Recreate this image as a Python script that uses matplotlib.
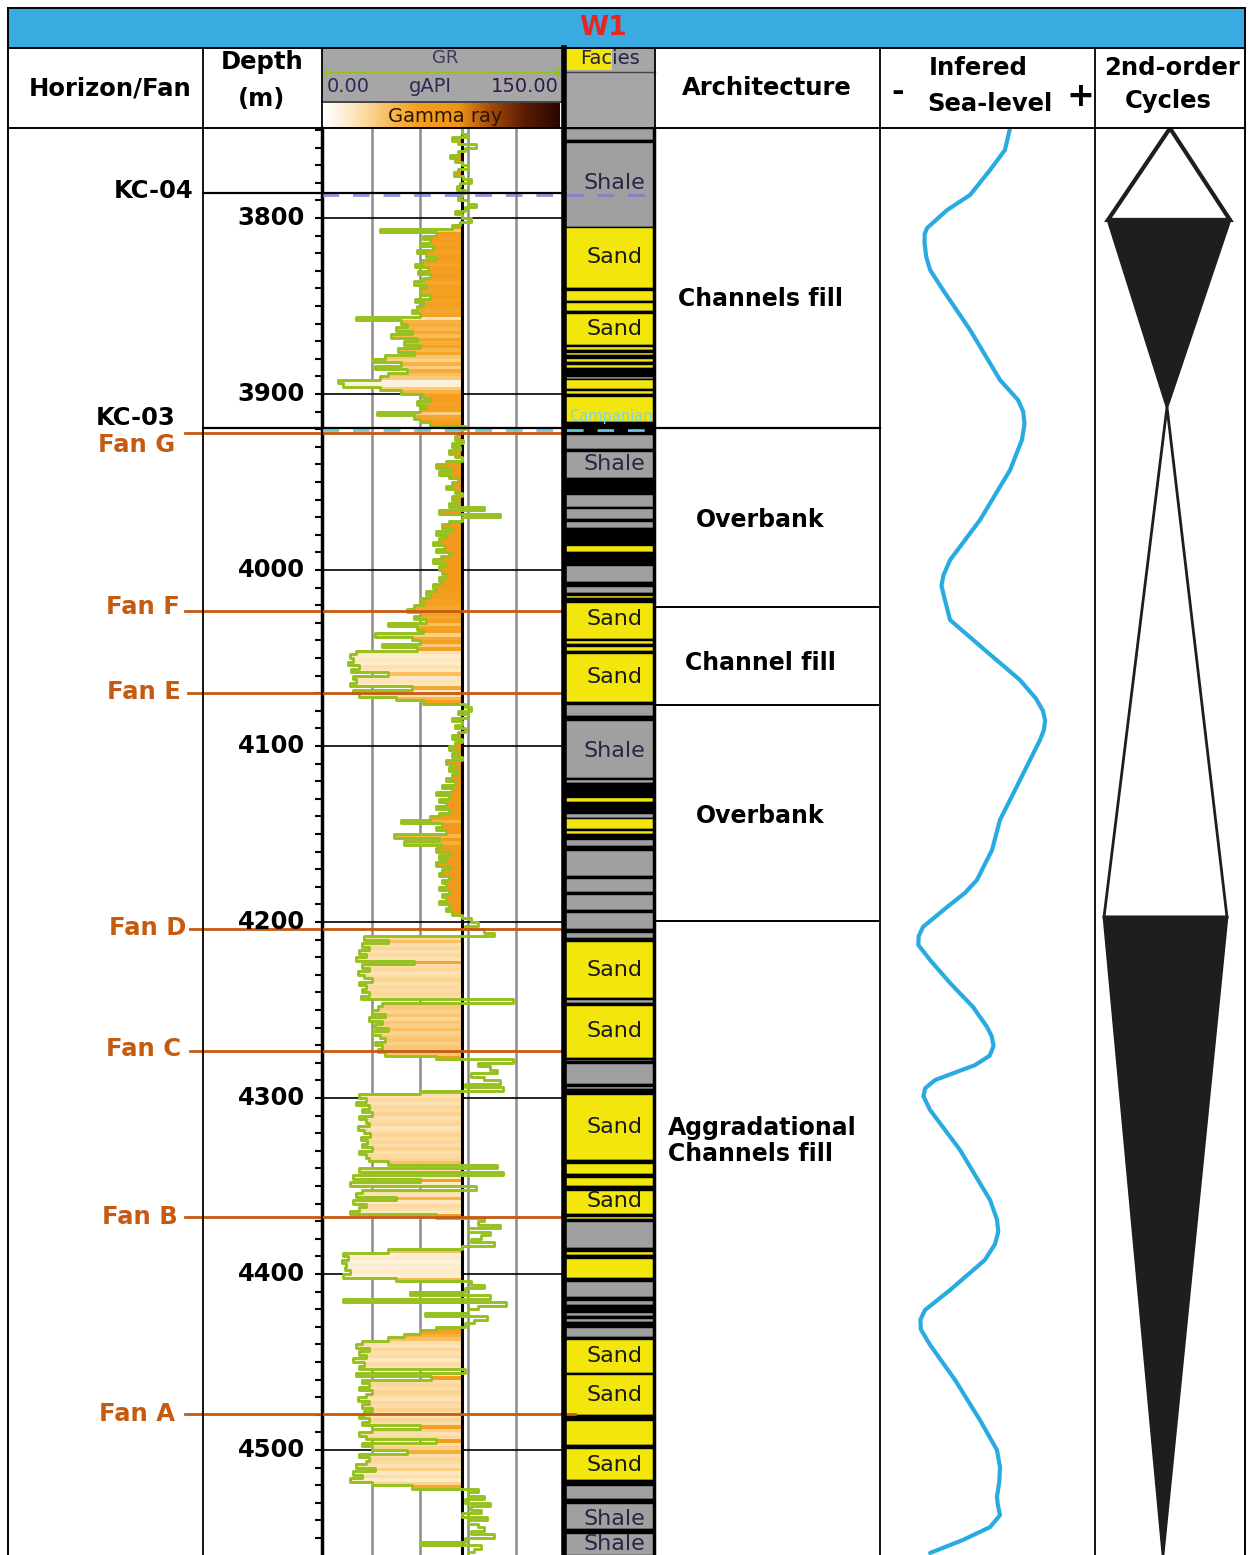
import numpy as np
import matplotlib
matplotlib.use('Agg')
import matplotlib.pyplot as plt
from matplotlib.colors import LinearSegmentedColormap, Normalize
from matplotlib.patches import Rectangle, Polygon

W, H = 1258, 1555
D_TOP, D_BOT = 3748.86, 4559.66

# ---------------- data ----------------
# GR log (gAPI), 2 m samples, listed by interval (start depth, values)
gr_segments = [
    (3750, [86, 90, 80, 84, 95, 88, 84, 79, 82, 86, 90, 84, 81, 87, 92, 85, 83, 88, 86, 84,
            90, 95, 88, 82, 86, 92, 85, 80]),
    (3806, [35, 70, 62, 66, 60, 68, 58, 64, 70, 61, 57, 65, 59, 66, 62, 56, 64, 60]),
    (3842, [60, 66, 57, 62, 58, 55, 60, 20, 48, 52]),
    (3862, [45, 55, 42, 58, 50, 60, 46, 56, 38, 30, 48, 32, 52, 40, 35]),
    (3892, [9, 12, 35, 48, 62, 66, 58, 64, 60, 33, 56, 60, 66]),
    (3918, [88, 86, 84, 82, 87, 80, 85, 78, 82, 86, 76, 70, 80, 72, 78, 84, 80, 76, 82, 86,
            80, 84, 78, 100, 72, 110, 86]),
    (3972, [78, 74, 80, 70, 76, 72, 68, 75, 70, 78, 73, 68, 76, 72, 74]),
    (4002, [76, 72, 74, 68, 70, 64, 66, 60, 62, 56, 52]),
    (4024, [60, 56, 64, 40, 58, 62, 32, 55, 60, 36, 58]),
    (4046, [20, 16, 18, 15, 22, 17, 40, 18, 20, 16, 55, 18, 22]),
    (4072, [45, 62]),
    (4076, [88, 92, 84, 90, 80, 86, 82, 88, 84, 80, 86, 82, 78, 84, 80, 86, 76, 82, 78, 84,
            80, 76, 82, 74, 80, 70, 78, 72, 76, 70, 78, 72, 66, 48, 74, 70, 76, 44, 72, 50,
            74, 70, 78, 72, 76, 70, 78, 74, 72, 78, 74, 76, 72, 78, 74, 76, 72, 78, 76, 80,
            86]),
    (4198, [92, 96, 88, 100, 106, 25, 40]),
    (4212, [24, 28, 22, 26, 20, 56, 24, 28, 21, 25, 30, 22, 26, 24, 28, 23]),
    (4244, [118, 36]),
    (4248, [34, 30, 38, 28, 36, 32, 40, 30, 35, 38, 32, 36, 34, 38]),
    (4276, [70, 118, 96, 104, 108, 92, 100, 110, 88, 112, 60]),
    (4298, [22, 26, 20, 28, 24, 30, 22, 26, 28, 21, 25, 29, 23, 27, 24, 30, 22, 26, 28]),
    (4336, [40, 108, 22, 112, 18, 60, 16, 95, 24, 20, 45, 18, 26, 22, 16, 70]),
    (4368, [100, 96, 110, 90, 104, 98, 92, 106, 86]),
    (4386, [40, 12, 15, 11, 14, 13, 16, 12, 45]),
    (4404, [92, 100, 88, 54, 104, 12, 114, 96, 90, 63, 102, 94, 88, 70, 60, 50, 40]),
    (4438, [24, 20, 28, 22, 26, 18, 25, 22, 88, 20, 67, 24, 28, 22, 30, 26, 21, 28, 24, 30,
            25, 22]),
    (4482, [28, 24, 60, 30, 22, 26, 70, 24, 30, 52, 22, 28, 26, 20, 32, 18, 24, 16, 30, 55]),
    (4522, [96, 90, 100, 88, 104, 92, 98, 86, 102, 90, 96, 100, 92, 106, 88, 60, 98, 94, 90, 96]),
]
gr_baseline = 86
gr_grid = [30, 60, 90, 120]
depth_major = [3800, 3900, 4000, 4100, 4200, 4300, 4400, 4500]

horizon_names = ['KC-04', 'KC-03', 'Fan G', 'Fan F', 'Fan E', 'Fan D', 'Fan C', 'Fan B', 'Fan A']
horizon_depths = [3785.8, 3919.3, 3922.0, 4023.3, 4069.9, 4204.0, 4273.3, 4367.6, 4479.5]
horizon_label_depths = [3784.7, 3913.6, 3929.0, 4021.0, 4069.3, 4203.4, 4272.2, 4367.6, 4479.5]

# facies column: top of each layer and its kind (S shale, D sand, B black band)
fac_tops = [3748.86, 3755.5, 3757, 3805, 3840, 3841, 3847, 3848, 3853, 3854,
            3872, 3873, 3875, 3876, 3878, 3879.5, 3882, 3883, 3885, 3890,
            3891.5, 3897, 3898, 3900, 3901, 3916, 3923, 3931, 3932.5, 3948,
            3957, 3964, 3965, 3971, 3972, 3976, 3986, 3990, 3997, 4007,
            4009, 4013, 4014, 4016, 4018, 4039, 4040, 4042, 4043, 4046,
            4047, 4075, 4076, 4083, 4085, 4118, 4119, 4121, 4129, 4132,
            4138, 4141, 4147, 4148, 4150, 4153, 4157, 4159, 4174, 4175,
            4183, 4184, 4193, 4194.5, 4204, 4205.5, 4209, 4211, 4243, 4244,
            4246, 4247, 4277, 4278, 4279, 4280, 4292, 4293, 4295, 4298,
            4335, 4337, 4343, 4345, 4350, 4352, 4366, 4367, 4369, 4370,
            4385, 4387, 4389, 4391, 4402, 4404, 4413, 4415, 4417.5, 4421.5,
            4424, 4425, 4427, 4430, 4436, 4437, 4456, 4457, 4480, 4483,
            4497, 4499, 4517, 4520, 4528, 4530, 4545, 4547]
fac_kinds = ('SBSDBDBDBD'
             'BDBDBDBDBS'
             'DBDBDBSBSB'
             'SBSBSBDBSB'
             'SBDBDBDBDB'
             'DBSBSBSBDB'
             'SDBDBSBSBS'
             'BSBSBSBDBS'
             'BDBSBSBSBD'
             'BDBDBDBDBS'
             'BDBDBSBSBS'
             'BSBSBDBDBD'
             'BDBSBSBS')
fac_label_depths = [3780, 3822, 3863, 3940, 4028, 4061, 4103, 4227, 4262, 4316.5,
                    4358.5, 4446.6, 4468.8, 4508.5, 4539, 4553.5]
fac_label_texts = ['Shale', 'Sand', 'Sand', 'Shale', 'Sand', 'Sand', 'Shale', 'Sand', 'Sand', 'Sand',
                   'Sand', 'Sand', 'Sand', 'Sand', 'Shale', 'Shale']

arch_bounds = [4021.0, 4076.7, 4199.4]
arch_labels = ['Channels fill', 'Overbank', 'Channel fill', 'Overbank', 'Aggradational\nChannels fill']
arch_label_depths = [3846.0, 3971.6, 4052.8, 4139.8, 4324.4]

# inferred relative sea level (0 = low, 10 = high)
sea_depths = [3748.9, 3761.4, 3772.7, 3786.9, 3795.5, 3805.7, 3809.0, 3814.0, 3822.0, 3829.5,
              3840.9, 3863.6, 3892.0, 3903.4, 3910.0, 3917.0, 3926.1, 3943.2, 3971.6, 3994.3,
              4003.0, 4009.0, 4017.0, 4028.4, 4045.5, 4062.5, 4073.0, 4080.0, 4085.5, 4091.0,
              4096.6, 4125.0, 4142.0, 4159.1, 4176.1, 4183.5, 4191.5, 4202.8, 4208.0, 4213.0,
              4221.6, 4234.7, 4248.3, 4259.7, 4265.0, 4270.5, 4276.0, 4281.3, 4289.8, 4294.5,
              4299.0, 4306.8, 4329.5, 4358.0, 4369.0, 4376.0, 4383.0, 4392.0, 4409.1, 4420.5,
              4426.0, 4431.5, 4440.3, 4460.2, 4483.0, 4500.0, 4509.7, 4518.0, 4526.7, 4531.0,
              4537.0, 4543.8, 4551.1, 4558.5]
sea_values = [6.05, 5.81, 5.12, 4.19, 3.12, 2.19, 2.08, 2.07, 2.15, 2.33,
              2.93, 4.19, 5.58, 6.42, 6.66, 6.72, 6.60, 6.05, 4.65, 3.26,
              2.95, 2.86, 3.02, 3.26, 4.88, 6.51, 7.25, 7.58, 7.68, 7.62,
              7.44, 6.28, 5.58, 5.21, 4.51, 3.95, 3.12, 2.00, 1.80, 1.78,
              2.33, 3.26, 4.33, 4.98, 5.20, 5.28, 5.10, 4.42, 2.56, 2.10,
              2.02, 2.33, 3.72, 5.12, 5.44, 5.50, 5.35, 4.88, 3.26, 2.09,
              1.88, 1.90, 2.33, 3.49, 4.65, 5.44, 5.58, 5.55, 5.44, 5.48,
              5.58, 5.12, 3.86, 2.33]

# 2nd-order cycles: nodes of the stacked triangles
cycle_depths = [3749.0, 3801.1, 3907.4, 4197.2, 4559.7]
cycle_left = [75, 13, 72, 9, 68]
cycle_right = [75, 135, 72, 132, 68]
cycle_fill = ['white', '#1e1e1c', 'white', '#1e1e1c']

# ---------------- style ----------------
ORANGE = '#c55a11'
GREEN = '#95c11f'
BLUE = '#29abe2'
fac_colors = {'S': '#a0a0a0', 'D': '#f2e60c', 'B': '#000000'}
gr_cmap = LinearSegmentedColormap.from_list('gamma', [
    (0.0, '#ffffff'), (0.1, '#fdeccb'), (0.2, '#fbd28e'), (0.3, '#f8b64a'),
    (0.4, '#f4a020'), (0.57, '#ee9519'), (0.7, '#a84e0c'), (0.85, '#5c1c04'), (1.0, '#2a0600')])
gr_norm = Normalize(0, 150)

fig = plt.figure(figsize=(W / 100, H / 100), dpi=100)
fig.patch.set_facecolor('white')


def px_axes(x0, y0, x1, y1):
    return fig.add_axes([x0 / W, 1 - y1 / H, (x1 - x0) / W, (y1 - y0) / H])


# ---- GR track ----
ax_gr = px_axes(322, 128, 562, 1555)
ax_gr.set_xlim(-1.25, 148.75)
ax_gr.set_ylim(D_BOT, D_TOP)
gr_d = np.concatenate([start + 2 * np.arange(len(v)) for start, v in gr_segments])
gr_v = np.concatenate([np.array(v, float) for _, v in gr_segments])
# each sample holds from its depth to the next one (matches steps-pre below)
ax_gr.barh(gr_d, np.maximum(gr_baseline - gr_v, 0), left=np.minimum(gr_v, gr_baseline),
           height=2, align='edge', color=gr_cmap(gr_norm(gr_v)), linewidth=0, zorder=2)
for g in gr_grid:
    ax_gr.axvline(g, color='#8c8c8c', lw=1.8, zorder=1)
ax_gr.axvline(gr_baseline, color='black', lw=2.2, zorder=3)
for d in depth_major:
    ax_gr.axhline(d, color='black', lw=1.2, zorder=1)
ax_gr.plot(gr_v, gr_d, drawstyle='steps-pre', color=GREEN, lw=2.1, zorder=4)
for s in ['top', 'right', 'bottom']:
    ax_gr.spines[s].set_visible(False)
ax_gr.spines['left'].set_linewidth(2.5)
ax_gr.set_xticks([])
ax_gr.set_yticks(np.arange(3750, 4560, 10))
ax_gr.tick_params(axis='y', direction='out', length=5, width=1.5, labelleft=False)

# ---- facies track ----
ax_f = px_axes(562, 128, 655, 1555)
ax_f.set_xlim(0, 1)
ax_f.set_ylim(D_BOT, D_TOP)
fac_base = fac_tops[1:] + [D_BOT]
ax_f.barh(fac_tops, 1, height=np.array(fac_base) - np.array(fac_tops), left=0, align='edge',
          color=[fac_colors[k] for k in fac_kinds], edgecolor='black', linewidth=1)
for d, t in zip(fac_label_depths, fac_label_texts):
    ax_f.text(0.56, d, t, ha='center', va='center', fontsize=16,
              color='#1a1a1a' if t == 'Sand' else '#262646')
ax_f.text(0.53, 3913.0, 'Campanian', ha='center', va='center', fontsize=10.5, color='#7fd6e6')
ax_f.axis('off')

# ---- sea level track ----
ax_s = px_axes(880, 128, 1095, 1555)
ax_s.set_xlim(0, 10)
ax_s.set_ylim(D_BOT, D_TOP)
ax_s.plot(sea_values, sea_depths, color=BLUE, lw=3, solid_joinstyle='round', solid_capstyle='round')
ax_s.axis('off')

# ---- 2nd order cycles ----
ax_c = px_axes(1095, 128, 1245, 1555)
ax_c.set_xlim(0, 150)
ax_c.set_ylim(D_BOT, D_TOP)
for i, fc in enumerate(cycle_fill):
    pts = [(cycle_left[i], cycle_depths[i]), (cycle_right[i], cycle_depths[i]),
           (cycle_right[i + 1], cycle_depths[i + 1]), (cycle_left[i + 1], cycle_depths[i + 1])]
    lw = 3 if i == 0 else 2
    ax_c.add_patch(Polygon(pts, closed=True, facecolor=fc, edgecolor='#1e1e1c', lw=lw,
                           joinstyle='miter'))
ax_c.axis('off')

# ---- overlay in depth coordinates ----
ov = px_axes(0, 128, W, 1555)
ov.set_xlim(0, W)
ov.set_ylim(D_BOT, D_TOP)
ov.patch.set_alpha(0)
ov.axis('off')

# horizon marker dashes in log tracks
ov.plot([322, 655], [3786.9, 3786.9], color='#7878d8', lw=2, ls=(0, (6, 5)), alpha=0.8)
ov.plot([322, 655], [3920.5, 3920.5], color='#70c8d8', lw=2, ls=(0, (6, 5)))

line_x0 = [203, 203, 185, 185, 188, 190, 190, 185, 185]
line_x1 = [562, 880, 562, 562, 562, 562, 562, 562, 575]
label_x = [193, 176, 175, 180, 181, 186, 181, 178, 175]
for name, d, ld, x0, x1, lx in zip(horizon_names, horizon_depths, horizon_label_depths,
                                   line_x0, line_x1, label_x):
    col = 'black' if name.startswith('KC') else ORANGE
    ov.plot([x0, x1], [d, d], color=col, lw=1.6 if col == 'black' else 2)
    ov.text(lx, ld, name, ha='right', va='center', fontsize=17.5, fontweight='bold', color=col)

for d in depth_major:
    ov.text(305, d, str(d), ha='right', va='center', fontsize=17.5, fontweight='bold')

for d in arch_bounds:
    ov.plot([655, 878], [d, d], color='black', lw=1.4)
for t, d in zip(arch_labels, arch_label_depths):
    if '\n' in t:
        ov.text(668, d, t, ha='left', va='center', fontsize=17, fontweight='bold', linespacing=1.15)
    else:
        ov.text(760, d, t, ha='center', va='center', fontsize=17, fontweight='bold')

# ---- frame and header in pixel coordinates ----
hp = fig.add_axes([0, 0, 1, 1])
hp.patch.set_alpha(0)
hp.add_patch(Rectangle((8, 8), 1237, 40, facecolor='#3aabe1', edgecolor='none'))
hp.add_patch(Rectangle((322, 48), 240, 55, facecolor='#a6a6a6', edgecolor='none'))
hp.add_patch(Rectangle((562, 48), 93, 80, facecolor='#a6a6a6', edgecolor='none'))
hp.add_patch(Rectangle((566, 48), 46, 22, facecolor='#f2e60c', edgecolor='none'))
grad = np.linspace(0, 150, 300)[None, :]
hp.imshow(grad, extent=(324, 560, 128, 103), cmap=gr_cmap, norm=gr_norm, aspect='auto')
hp.plot([326, 558], [72, 72], color=GREEN, lw=1.5)
hp.plot([326, 326], [68, 76], color=GREEN, lw=1.5)
hp.plot([558, 558], [68, 76], color=GREEN, lw=1.5)
hp.plot([322, 562], [102, 102], color='#333333', lw=1.2)
hp.plot([566, 655], [72, 72], color='#444444', lw=1)

for y in [8, 48, 128]:
    hp.plot([8, 1245], [y, y], color='black', lw=1.4)
for x in [8, 1245]:
    hp.plot([x, x], [8, H], color='black', lw=1.4)
for x in [203, 322, 655, 880, 1095]:
    hp.plot([x, x], [48, H], color='black', lw=1.3)
hp.plot([563.5, 563.5], [48, H], color='black', lw=4)
hp.plot([653.5, 653.5], [128, H], color='black', lw=2.5)

hp.text(603, 28, 'W1', ha='center', va='center', fontsize=19, fontweight='bold', color='#e8251f')
bold = dict(ha='center', va='center', fontsize=17.5, fontweight='bold')
hp.text(110, 88, 'Horizon/Fan', **bold)
hp.text(262, 62, 'Depth', **bold)
hp.text(262, 99, '(m)', **bold)
hp.text(767, 88, 'Architecture', **bold)
hp.text(978, 68, 'Infered', **bold)
hp.text(990, 104, 'Sea-level', **bold)
hp.text(898, 92, '-', ha='center', va='center', fontsize=22, fontweight='bold')
hp.text(1080, 96, '+', ha='center', va='center', fontsize=24, fontweight='bold')
hp.text(1172, 68, '2nd-order', **bold)
hp.text(1168, 101, 'Cycles', **bold)
hp.text(445, 58, 'GR', ha='center', va='center', fontsize=13, color='#3a3a5a')
hp.text(327, 87, '0.00', ha='left', va='center', fontsize=14, color='#2d2a5a')
hp.text(430, 87, 'gAPI', ha='center', va='center', fontsize=14, color='#2d2a5a')
hp.text(559, 87, '150.00', ha='right', va='center', fontsize=14, color='#2d1a4a')
hp.text(445, 117, 'Gamma ray', ha='center', va='center', fontsize=14, color='#2a1406')
hp.text(610, 58, 'Facies', ha='center', va='center', fontsize=14, color='#222244')

hp.set_xlim(0, W)
hp.set_ylim(H, 0)
hp.axis('off')

fig.savefig('out.png', dpi=100, facecolor='white')
